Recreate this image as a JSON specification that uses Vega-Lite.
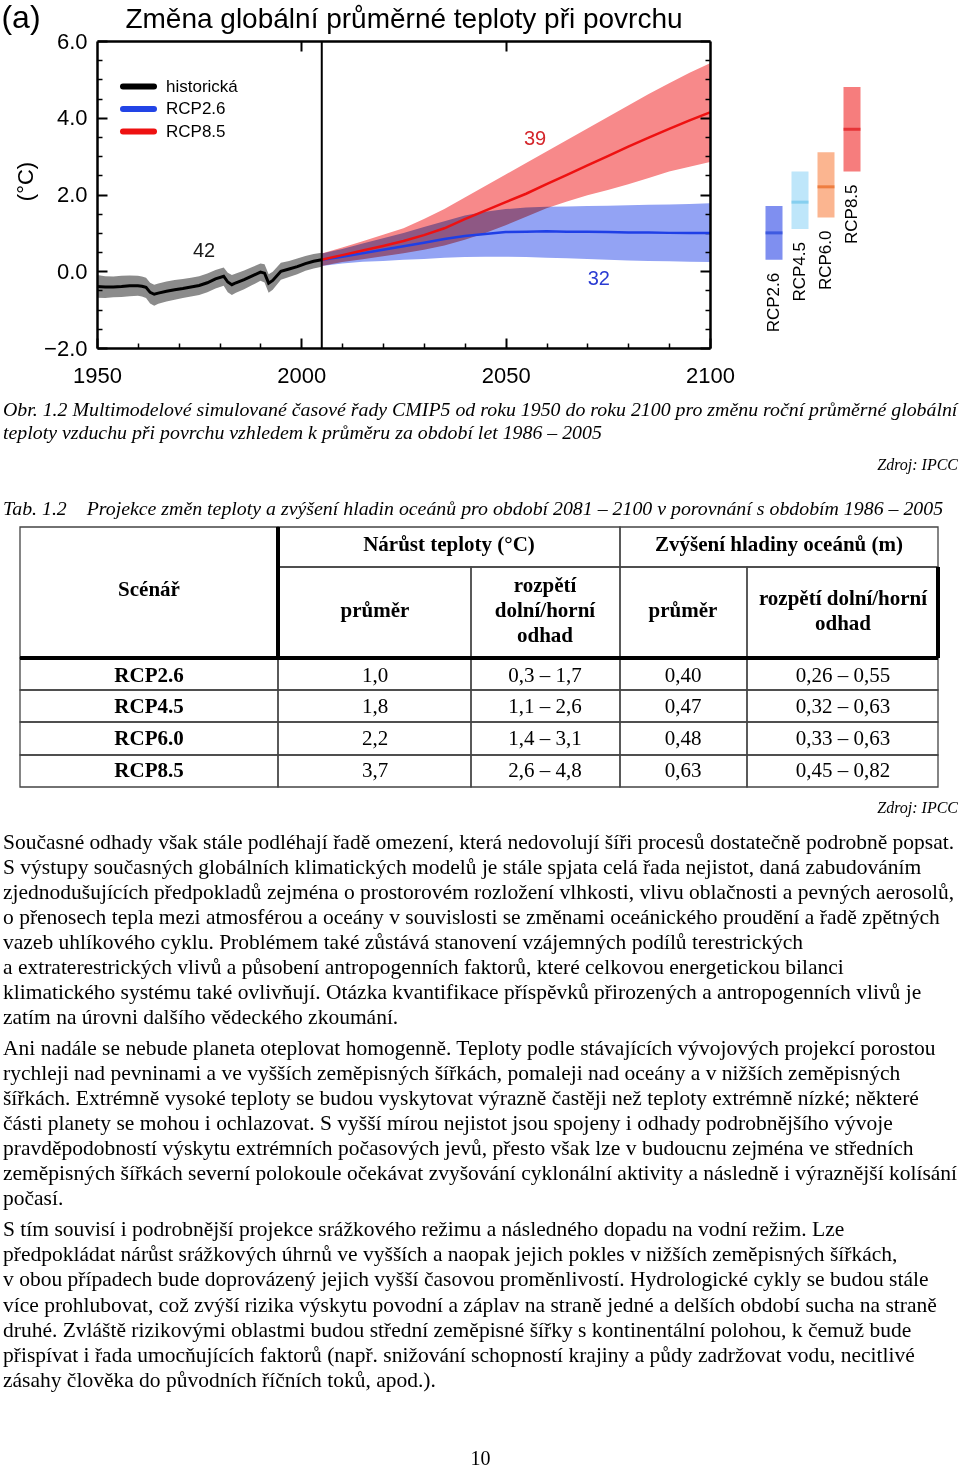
{
  "$schema": "https://vega.github.io/schema/vega-lite/v6.json",
  "width": 960,
  "height": 1470,
  "autosize": "none",
  "padding": 0,
  "background": "white",
  "config": {
    "font": "Liberation Sans",
    "view": {"stroke": null},
    "axis": {"grid": false, "domain": false, "ticks": false, "labels": false, "labelColor": "black", "tickColor": "black", "titleColor": "black", "labelFlush": false, "labelOverlap": false, "labelFont": "Liberation Sans", "titleFont": "Liberation Sans"},
    "text": {"color": "black"}
  },
  "datasets": {
    "ts": [
      {"s": "historická", "year": 1950, "mean": -0.40, "lo": -0.69, "hi": -0.10},
      {"s": "historická", "year": 1952, "mean": -0.41, "lo": -0.70, "hi": -0.13},
      {"s": "historická", "year": 1954, "mean": -0.41, "lo": -0.68, "hi": -0.14},
      {"s": "historická", "year": 1956, "mean": -0.40, "lo": -0.67, "hi": -0.12},
      {"s": "historická", "year": 1958, "mean": -0.38, "lo": -0.65, "hi": -0.11},
      {"s": "historická", "year": 1960, "mean": -0.38, "lo": -0.64, "hi": -0.12},
      {"s": "historická", "year": 1961, "mean": -0.39, "lo": -0.66, "hi": -0.14},
      {"s": "historická", "year": 1962, "mean": -0.42, "lo": -0.70, "hi": -0.17},
      {"s": "historická", "year": 1963, "mean": -0.55, "lo": -0.84, "hi": -0.30},
      {"s": "historická", "year": 1964, "mean": -0.60, "lo": -0.90, "hi": -0.35},
      {"s": "historická", "year": 1965, "mean": -0.57, "lo": -0.85, "hi": -0.32},
      {"s": "historická", "year": 1967, "mean": -0.52, "lo": -0.79, "hi": -0.27},
      {"s": "historická", "year": 1969, "mean": -0.48, "lo": -0.74, "hi": -0.23},
      {"s": "historická", "year": 1971, "mean": -0.45, "lo": -0.70, "hi": -0.20},
      {"s": "historická", "year": 1973, "mean": -0.41, "lo": -0.66, "hi": -0.17},
      {"s": "historická", "year": 1975, "mean": -0.37, "lo": -0.62, "hi": -0.13},
      {"s": "historická", "year": 1977, "mean": -0.30, "lo": -0.55, "hi": -0.06},
      {"s": "historická", "year": 1979, "mean": -0.20, "lo": -0.45, "hi": 0.03},
      {"s": "historická", "year": 1981, "mean": -0.13, "lo": -0.38, "hi": 0.10},
      {"s": "historická", "year": 1982, "mean": -0.28, "lo": -0.55, "hi": -0.04},
      {"s": "historická", "year": 1983, "mean": -0.35, "lo": -0.62, "hi": -0.10},
      {"s": "historická", "year": 1984, "mean": -0.30, "lo": -0.56, "hi": -0.06},
      {"s": "historická", "year": 1986, "mean": -0.22, "lo": -0.47, "hi": 0.02},
      {"s": "historická", "year": 1988, "mean": -0.12, "lo": -0.36, "hi": 0.11},
      {"s": "historická", "year": 1990, "mean": -0.02, "lo": -0.25, "hi": 0.20},
      {"s": "historická", "year": 1991, "mean": -0.05, "lo": -0.29, "hi": 0.18},
      {"s": "historická", "year": 1992, "mean": -0.31, "lo": -0.56, "hi": -0.08},
      {"s": "historická", "year": 1993, "mean": -0.24, "lo": -0.48, "hi": -0.01},
      {"s": "historická", "year": 1995, "mean": 0.00, "lo": -0.22, "hi": 0.22},
      {"s": "historická", "year": 1997, "mean": 0.06, "lo": -0.15, "hi": 0.27},
      {"s": "historická", "year": 1999, "mean": 0.12, "lo": -0.08, "hi": 0.33},
      {"s": "historická", "year": 2001, "mean": 0.20, "lo": 0.01, "hi": 0.40},
      {"s": "historická", "year": 2003, "mean": 0.26, "lo": 0.07, "hi": 0.45},
      {"s": "historická", "year": 2005, "mean": 0.30, "lo": 0.12, "hi": 0.48},
      {"s": "RCP2.6", "year": 2005, "mean": 0.30, "lo": 0.14, "hi": 0.46},
      {"s": "RCP2.6", "year": 2010, "mean": 0.38, "lo": 0.20, "hi": 0.58},
      {"s": "RCP2.6", "year": 2015, "mean": 0.47, "lo": 0.25, "hi": 0.72},
      {"s": "RCP2.6", "year": 2020, "mean": 0.56, "lo": 0.27, "hi": 0.86},
      {"s": "RCP2.6", "year": 2025, "mean": 0.65, "lo": 0.30, "hi": 1.00},
      {"s": "RCP2.6", "year": 2030, "mean": 0.74, "lo": 0.32, "hi": 1.15},
      {"s": "RCP2.6", "year": 2035, "mean": 0.84, "lo": 0.35, "hi": 1.30},
      {"s": "RCP2.6", "year": 2040, "mean": 0.92, "lo": 0.37, "hi": 1.45},
      {"s": "RCP2.6", "year": 2045, "mean": 0.97, "lo": 0.38, "hi": 1.55},
      {"s": "RCP2.6", "year": 2050, "mean": 1.02, "lo": 0.38, "hi": 1.62},
      {"s": "RCP2.6", "year": 2055, "mean": 1.03, "lo": 0.37, "hi": 1.66},
      {"s": "RCP2.6", "year": 2060, "mean": 1.04, "lo": 0.35, "hi": 1.68},
      {"s": "RCP2.6", "year": 2065, "mean": 1.03, "lo": 0.34, "hi": 1.69},
      {"s": "RCP2.6", "year": 2070, "mean": 1.03, "lo": 0.32, "hi": 1.70},
      {"s": "RCP2.6", "year": 2075, "mean": 1.02, "lo": 0.30, "hi": 1.71},
      {"s": "RCP2.6", "year": 2080, "mean": 1.01, "lo": 0.28, "hi": 1.72},
      {"s": "RCP2.6", "year": 2085, "mean": 1.01, "lo": 0.27, "hi": 1.73},
      {"s": "RCP2.6", "year": 2090, "mean": 1.00, "lo": 0.26, "hi": 1.74},
      {"s": "RCP2.6", "year": 2095, "mean": 1.00, "lo": 0.25, "hi": 1.75},
      {"s": "RCP2.6", "year": 2100, "mean": 1.00, "lo": 0.24, "hi": 1.77},
      {"s": "RCP8.5", "year": 2005, "mean": 0.30, "lo": 0.14, "hi": 0.46},
      {"s": "RCP8.5", "year": 2010, "mean": 0.42, "lo": 0.24, "hi": 0.62},
      {"s": "RCP8.5", "year": 2015, "mean": 0.54, "lo": 0.31, "hi": 0.78},
      {"s": "RCP8.5", "year": 2020, "mean": 0.66, "lo": 0.39, "hi": 0.95},
      {"s": "RCP8.5", "year": 2025, "mean": 0.79, "lo": 0.47, "hi": 1.12},
      {"s": "RCP8.5", "year": 2030, "mean": 0.94, "lo": 0.56, "hi": 1.36},
      {"s": "RCP8.5", "year": 2035, "mean": 1.12, "lo": 0.67, "hi": 1.62},
      {"s": "RCP8.5", "year": 2040, "mean": 1.36, "lo": 0.82, "hi": 1.92},
      {"s": "RCP8.5", "year": 2045, "mean": 1.58, "lo": 1.00, "hi": 2.22},
      {"s": "RCP8.5", "year": 2050, "mean": 1.80, "lo": 1.20, "hi": 2.52},
      {"s": "RCP8.5", "year": 2055, "mean": 2.02, "lo": 1.42, "hi": 2.82},
      {"s": "RCP8.5", "year": 2060, "mean": 2.27, "lo": 1.64, "hi": 3.12},
      {"s": "RCP8.5", "year": 2065, "mean": 2.51, "lo": 1.82, "hi": 3.42},
      {"s": "RCP8.5", "year": 2070, "mean": 2.76, "lo": 1.98, "hi": 3.72},
      {"s": "RCP8.5", "year": 2075, "mean": 3.00, "lo": 2.12, "hi": 4.02},
      {"s": "RCP8.5", "year": 2080, "mean": 3.25, "lo": 2.27, "hi": 4.32},
      {"s": "RCP8.5", "year": 2085, "mean": 3.48, "lo": 2.43, "hi": 4.62},
      {"s": "RCP8.5", "year": 2090, "mean": 3.71, "lo": 2.60, "hi": 4.90},
      {"s": "RCP8.5", "year": 2095, "mean": 3.93, "lo": 2.72, "hi": 5.17},
      {"s": "RCP8.5", "year": 2100, "mean": 4.14, "lo": 2.85, "hi": 5.42}
    ],
    "notes": [
      {"t": "42", "s": "historická", "year": 1976.2, "temp": 0.53},
      {"t": "39", "s": "RCP8.5", "year": 2057.2, "temp": 3.45},
      {"t": "32", "s": "RCP2.6", "year": 2072.8, "temp": -0.2}
    ],
    "panel": [{"t": "(a)", "year": 1931.4, "temp": 6.6}],
    "leg": [{"s": "historická"}, {"s": "RCP2.6"}, {"s": "RCP8.5"}],
    "bars": [
      {"s": "RCP2.6", "lo": 0.3, "mean": 1.0, "hi": 1.7},
      {"s": "RCP4.5", "lo": 1.1, "mean": 1.8, "hi": 2.6},
      {"s": "RCP6.0", "lo": 1.4, "mean": 2.2, "hi": 3.1},
      {"s": "RCP8.5", "lo": 2.6, "mean": 3.7, "hi": 4.8}
    ],
    "cells": [
      {"c0": 0, "c1": 1, "r0": 0, "r1": 2},
      {"c0": 1, "c1": 3, "r0": 0, "r1": 1},
      {"c0": 3, "c1": 5, "r0": 0, "r1": 1},
      {"c0": 1, "c1": 2, "r0": 1, "r1": 2},
      {"c0": 2, "c1": 3, "r0": 1, "r1": 2},
      {"c0": 3, "c1": 4, "r0": 1, "r1": 2},
      {"c0": 4, "c1": 5, "r0": 1, "r1": 2},
      {"c0": 0, "c1": 1, "r0": 2, "r1": 3}, {"c0": 1, "c1": 2, "r0": 2, "r1": 3}, {"c0": 2, "c1": 3, "r0": 2, "r1": 3}, {"c0": 3, "c1": 4, "r0": 2, "r1": 3}, {"c0": 4, "c1": 5, "r0": 2, "r1": 3},
      {"c0": 0, "c1": 1, "r0": 3, "r1": 4}, {"c0": 1, "c1": 2, "r0": 3, "r1": 4}, {"c0": 2, "c1": 3, "r0": 3, "r1": 4}, {"c0": 3, "c1": 4, "r0": 3, "r1": 4}, {"c0": 4, "c1": 5, "r0": 3, "r1": 4},
      {"c0": 0, "c1": 1, "r0": 4, "r1": 5}, {"c0": 1, "c1": 2, "r0": 4, "r1": 5}, {"c0": 2, "c1": 3, "r0": 4, "r1": 5}, {"c0": 3, "c1": 4, "r0": 4, "r1": 5}, {"c0": 4, "c1": 5, "r0": 4, "r1": 5},
      {"c0": 0, "c1": 1, "r0": 5, "r1": 6}, {"c0": 1, "c1": 2, "r0": 5, "r1": 6}, {"c0": 2, "c1": 3, "r0": 5, "r1": 6}, {"c0": 3, "c1": 4, "r0": 5, "r1": 6}, {"c0": 4, "c1": 5, "r0": 5, "r1": 6}
    ],
    "thick": [
      {"c0": 0, "c1": 5, "r0": 2, "r1": 2},
      {"c0": 1, "c1": 1, "r0": 0, "r1": 2},
      {"c0": 5, "c1": 5, "r0": 1, "r1": 2}
    ],
    "tabbold": [
      {"t": "Scénář", "c": 0, "r": 1},
      {"t": "Nárůst teploty (°C)", "c": 2, "r": 0},
      {"t": "Zvýšení hladiny oceánů (m)", "c": 5, "r": 0},
      {"t": "průměr", "c": 1, "r": 2},
      {"t": "průměr", "c": 4, "r": 2},
      {"t": "RCP2.6", "c": 0, "r": 3},
      {"t": "RCP4.5", "c": 0, "r": 4},
      {"t": "RCP6.0", "c": 0, "r": 5},
      {"t": "RCP8.5", "c": 0, "r": 6}
    ],
    "tab3": [{"t": "rozpětí\ndolní/horní\nodhad", "c": 3, "r": 2}],
    "tab2": [{"t": "rozpětí dolní/horní\nodhad", "c": 6, "r": 2}],
    "tabreg": [
      {"t": "1,0", "c": 1, "r": 3}, {"t": "0,3 – 1,7", "c": 3, "r": 3}, {"t": "0,40", "c": 4, "r": 3}, {"t": "0,26 – 0,55", "c": 6, "r": 3},
      {"t": "1,8", "c": 1, "r": 4}, {"t": "1,1 – 2,6", "c": 3, "r": 4}, {"t": "0,47", "c": 4, "r": 4}, {"t": "0,32 – 0,63", "c": 6, "r": 4},
      {"t": "2,2", "c": 1, "r": 5}, {"t": "1,4 – 3,1", "c": 3, "r": 5}, {"t": "0,48", "c": 4, "r": 5}, {"t": "0,33 – 0,63", "c": 6, "r": 5},
      {"t": "3,7", "c": 1, "r": 6}, {"t": "2,6 – 4,8", "c": 3, "r": 6}, {"t": "0,63", "c": 4, "r": 6}, {"t": "0,45 – 0,82", "c": 6, "r": 6}
    ],
    "ital": [
      {"t": "Obr. 1.2 Multimodelové simulované časové řady CMIP5 od roku 1950 do roku 2100 pro změnu roční průměrné globální", "ln": 0},
      {"t": "teploty vzduchu při povrchu vzhledem k průměru za období let 1986 – 2005", "ln": 1},
      {"t": "Tab. 1.2\u00a0\u00a0\u00a0 Projekce změn teploty a zvýšení hladin oceánů pro období 2081 – 2100 v porovnání s obdobím 1986 – 2005", "ln": 3}
    ],
    "italr": [
      {"t": "Zdroj: IPCC", "ln": 2},
      {"t": "Zdroj: IPCC", "ln": 4}
    ],
    "para": [
      {"ln": 0, "t": "Současné odhady však stále podléhají řadě omezení, která nedovolují šíři procesů dostatečně podrobně popsat."},
      {"ln": 1, "t": "S výstupy současných globálních klimatických modelů je stále spjata celá řada nejistot, daná zabudováním"},
      {"ln": 2, "t": "zjednodušujících předpokladů zejména o prostorovém rozložení vlhkosti, vlivu oblačnosti a pevných aerosolů,"},
      {"ln": 3, "t": "o přenosech tepla mezi atmosférou a oceány v souvislosti se změnami oceánického proudění a řadě zpětných"},
      {"ln": 4, "t": "vazeb uhlíkového cyklu. Problémem také zůstává stanovení vzájemných podílů terestrických"},
      {"ln": 5, "t": "a extraterestrických vlivů a působení antropogenních faktorů, které celkovou energetickou bilanci"},
      {"ln": 6, "t": "klimatického systému také ovlivňují. Otázka kvantifikace příspěvků přirozených a antropogenních vlivů je"},
      {"ln": 7, "t": "zatím na úrovni dalšího vědeckého zkoumání."},
      {"ln": 8, "t": "Ani nadále se nebude planeta oteplovat homogenně. Teploty podle stávajících vývojových projekcí porostou"},
      {"ln": 9, "t": "rychleji nad pevninami a ve vyšších zeměpisných šířkách, pomaleji nad oceány a v nižších zeměpisných"},
      {"ln": 10, "t": "šířkách. Extrémně vysoké teploty se budou vyskytovat výrazně častěji než teploty extrémně nízké; některé"},
      {"ln": 11, "t": "části planety se mohou i ochlazovat. S vyšší mírou nejistot jsou spojeny i odhady podrobnějšího vývoje"},
      {"ln": 12, "t": "pravděpodobností výskytu extrémních počasových jevů, přesto však lze v budoucnu zejména ve středních"},
      {"ln": 13, "t": "zeměpisných šířkách severní polokoule očekávat zvyšování cyklonální aktivity a následně i výraznější kolísání"},
      {"ln": 14, "t": "počasí."},
      {"ln": 15, "t": "S tím souvisí i podrobnější projekce srážkového režimu a následného dopadu na vodní režim. Lze"},
      {"ln": 16, "t": "předpokládat nárůst srážkových úhrnů ve vyšších a naopak jejich pokles v nižších zeměpisných šířkách,"},
      {"ln": 17, "t": "v obou případech bude doprovázený jejich vyšší časovou proměnlivostí. Hydrologické cykly se budou stále"},
      {"ln": 18, "t": "více prohlubovat, což zvýší rizika výskytu povodní a záplav na straně jedné a delších období sucha na straně"},
      {"ln": 19, "t": "druhé. Zvláště rizikovými oblastmi budou střední zeměpisné šířky s kontinentální polohou, k čemuž bude"},
      {"ln": 20, "t": "přispívat i řada umocňujících faktorů (např. snižování schopností krajiny a půdy zadržovat vodu, necitlivé"},
      {"ln": 21, "t": "zásahy člověka do původních říčních toků, apod.)."}
    ],
    "pg": [{"ln": 22, "t": "10"}]
  },
  "layer": [
    {
      "data": {"name": "ts"},
      "layer": [
        {
          "mark": {"type": "area", "blend": "multiply"},
          "encoding": {
            "x": {"field": "year", "type": "quantitative", "scale": {"domain": [1950, 2100], "range": [97, 710], "nice": false, "zero": false},
                  "axis": {"orient": "bottom", "offset": -1132, "values": [1950, 2000, 2050, 2100], "format": "d", "ticks": true, "tickSize": 10, "tickWidth": 2, "labels": true, "labelPadding": 17, "labelFontSize": 22, "title": null}},
            "y": {"field": "lo", "type": "quantitative", "scale": {"domain": [-2, 6], "range": [348, 41], "nice": false, "zero": false},
                  "axis": {"orient": "left", "offset": -107, "values": [-2, 0, 2, 4, 6], "format": ".1f", "ticks": true, "tickSize": 10, "tickWidth": 2, "labels": true, "labelPadding": 10, "labelFontSize": 22, "title": "(°C)", "titleFontSize": 22, "titleFontWeight": "normal", "titleX": -70, "titleY": 181, "titleBaseline": "bottom", "titleAngle": -90}},
            "y2": {"field": "hi"},
            "fill": {"field": "s", "type": "nominal", "scale": {"domain": ["historická", "RCP2.6", "RCP8.5"], "range": ["#8b8b8b", "#93a3f4", "#f7898a"]}, "legend": null}
          }
        },
        {
          "transform": [{"filter": "datum.s == 'historická'"}],
          "mark": {"type": "line", "strokeWidth": 3},
          "encoding": {
            "x": {"field": "year", "type": "quantitative",
                  "axis": {"orient": "bottom", "offset": -1127, "values": [1960, 1970, 1980, 1990, 2010, 2020, 2030, 2040, 2060, 2070, 2080, 2090], "ticks": true, "tickSize": 5, "tickWidth": 1.5, "title": null}},
            "y": {"field": "mean", "type": "quantitative",
                  "axis": {"orient": "left", "offset": -102, "values": [-1.5, -1, -0.5, 0.5, 1, 1.5, 2.5, 3, 3.5, 4.5, 5, 5.5], "ticks": true, "tickSize": 5, "tickWidth": 1.5, "title": null}},
            "stroke": {"field": "s", "type": "nominal", "scale": {"domain": ["historická", "RCP2.6", "RCP8.5"], "range": ["#000000", "#1f3fe6", "#ee1111"]}, "legend": null}
          }
        },
        {
          "transform": [{"filter": "datum.s != 'historická'"}],
          "mark": {"type": "line", "strokeWidth": 2.5},
          "encoding": {
            "x": {"field": "year", "type": "quantitative", "axis": null},
            "y": {"field": "mean", "type": "quantitative",
                  "axis": {"orient": "right", "offset": -250, "domain": true, "domainWidth": 2.5, "domainColor": "black", "title": null, "zindex": 1}},
            "stroke": {"field": "s", "type": "nominal", "legend": null}
          }
        },
        {
          "data": {"name": "panel"},
          "mark": {"type": "rule", "strokeWidth": 2, "color": "black"},
          "encoding": {
            "x": {"datum": 2005, "type": "quantitative",
                  "axis": {"orient": "top", "offset": -51, "values": [2000, 2050], "ticks": true, "tickSize": 10, "tickWidth": 2, "title": null}},
            "y": {"datum": -2, "type": "quantitative",
                  "axis": {"orient": "right", "offset": -260, "values": [-2, 0, 2, 4, 6], "ticks": true, "tickSize": 10, "tickWidth": 2, "title": null}},
            "y2": {"datum": 6}
          }
        },
        {
          "data": {"name": "notes"},
          "mark": {"type": "text", "fontSize": 20},
          "encoding": {
            "x": {"field": "year", "type": "quantitative",
                  "axis": {"orient": "top", "offset": -41, "domain": true, "domainWidth": 2.5, "domainColor": "black", "title": "Změna globální průměrné teploty při povrchu", "titleFontSize": 28, "titleFontWeight": "normal", "titlePadding": 8, "zindex": 1}},
            "y": {"field": "temp", "type": "quantitative",
                  "axis": {"orient": "right", "offset": -255, "values": [-1.5, -1, -0.5, 0.5, 1, 1.5, 2.5, 3, 3.5, 4.5, 5, 5.5], "ticks": true, "tickSize": 5, "tickWidth": 1.5, "title": null}},
            "text": {"field": "t"},
            "color": {"field": "s", "type": "nominal", "scale": {"domain": ["historická", "RCP2.6", "RCP8.5"], "range": ["#1a1a1a", "#2a3bd2", "#d4262b"]}, "legend": null}
          }
        },
        {
          "data": {"name": "panel"},
          "mark": {"type": "text", "fontSize": 32},
          "encoding": {
            "x": {"field": "year", "type": "quantitative",
                  "axis": {"orient": "bottom", "offset": -1122, "domain": true, "domainWidth": 2.5, "domainColor": "black", "title": null, "zindex": 1}},
            "y": {"field": "temp", "type": "quantitative",
                  "axis": {"orient": "left", "offset": -97, "domain": true, "domainWidth": 2.5, "domainColor": "black", "title": null, "zindex": 1}},
            "text": {"field": "t"}
          }
        }
      ],
      "resolve": {"axis": {"x": "independent", "y": "independent"}}
    },
    {
      "data": {"name": "leg"},
      "layer": [
        {
          "mark": {"type": "rule", "strokeWidth": 6, "strokeCap": "round"},
          "encoding": {
            "x": {"datum": 0, "type": "quantitative", "scale": {"domain": [0, 1], "range": [123, 154], "nice": false, "zero": false}, "axis": null},
            "x2": {"datum": 1},
            "y": {"field": "s", "type": "nominal", "sort": null, "scale": {"type": "point", "domain": ["historická", "RCP2.6", "RCP8.5"], "range": [86.5, 131.5], "padding": 0}, "axis": null},
            "color": {"field": "s", "type": "nominal", "scale": {"domain": ["historická", "RCP2.6", "RCP8.5"], "range": ["#000000", "#2244e6", "#ee1111"]}, "legend": null}
          }
        },
        {
          "mark": {"type": "text", "align": "left", "baseline": "middle", "fontSize": 17, "dx": 12},
          "encoding": {
            "x": {"datum": 1, "type": "quantitative", "axis": null},
            "y": {"field": "s", "type": "nominal", "axis": null},
            "text": {"field": "s"}
          }
        }
      ]
    },
    {
      "data": {"name": "bars"},
      "layer": [
        {
          "mark": {"type": "bar"},
          "encoding": {
            "x": {"field": "s", "type": "nominal", "sort": null, "scale": {"domain": ["RCP2.6", "RCP4.5", "RCP6.0", "RCP8.5"], "range": [761, 865], "paddingInner": 0.346, "paddingOuter": 0.173},
                  "axis": {"orient": "top", "offset": 0, "title": ["Průměr za období", "2081–2100"], "titleFontSize": 21, "titleFontWeight": "normal", "titleAlign": "left", "titleAnchor": "start", "titleX": 724, "titleY": 45, "titleBaseline": "alphabetic", "titleLineHeight": 26.7, "titleAngle": 0}},
            "y": {"field": "lo", "type": "quantitative", "scale": {"domain": [-2, 6], "range": [348, 41], "nice": false, "zero": false}, "axis": null},
            "y2": {"field": "hi"},
            "fill": {"field": "s", "type": "nominal", "scale": {"domain": ["RCP2.6", "RCP4.5", "RCP6.0", "RCP8.5"], "range": ["#7f8ff0", "#bee6fa", "#fbb590", "#f67d7d"]}, "legend": null}
          }
        },
        {
          "mark": {"type": "tick", "thickness": 3, "size": 17},
          "encoding": {
            "x": {"field": "s", "type": "nominal", "axis": null},
            "y": {"field": "mean", "type": "quantitative", "axis": null},
            "color": {"field": "s", "type": "nominal", "scale": {"domain": ["RCP2.6", "RCP4.5", "RCP6.0", "RCP8.5"], "range": ["#2243d8", "#6ec5ea", "#e8661f", "#e0161a"]}, "legend": null}
          }
        },
        {
          "mark": {"type": "text", "angle": 270, "align": "right", "baseline": "middle", "dx": -13, "fontSize": 17},
          "encoding": {
            "x": {"field": "s", "type": "nominal", "axis": null},
            "y": {"field": "lo", "type": "quantitative", "axis": null},
            "text": {"field": "s"}
          }
        }
      ]
    },
    {
      "layer": [
        {
          "data": {"name": "cells"},
          "mark": {"type": "rect", "filled": false, "color": "#444444", "strokeWidth": 1.3},
          "encoding": {
            "x": {"field": "c0", "type": "quantitative", "scale": {"domain": [0, 1, 2, 3, 4, 5], "range": [20, 278, 471, 620, 747, 938], "nice": false, "zero": false}, "axis": null},
            "x2": {"field": "c1"},
            "y": {"field": "r0", "type": "quantitative", "scale": {"domain": [0, 1, 2, 3, 4, 5, 6], "range": [527, 567, 658, 690, 722, 755, 787], "nice": false, "zero": false}, "axis": null},
            "y2": {"field": "r1"}
          }
        },
        {
          "data": {"name": "thick"},
          "mark": {"type": "rule", "strokeWidth": 4, "color": "black"},
          "encoding": {
            "x": {"field": "c0", "type": "quantitative", "axis": null},
            "x2": {"field": "c1"},
            "y": {"field": "r0", "type": "quantitative", "axis": null},
            "y2": {"field": "r1"}
          }
        }
      ]
    },
    {
      "layer": [
        {
          "data": {"name": "tabbold"},
          "mark": {"type": "text", "font": "Liberation Serif", "fontWeight": "bold", "fontSize": 21, "baseline": "middle", "align": "center"},
          "encoding": {
            "x": {"field": "c", "type": "quantitative", "scale": {"domain": [0, 1, 2, 3, 4, 5, 6], "range": [149, 375, 449, 545, 683, 779, 843], "nice": false, "zero": false}, "axis": null},
            "y": {"field": "r", "type": "quantitative", "scale": {"domain": [0, 1, 2, 3, 4, 5, 6], "range": [545, 590, 611, 676, 707, 739, 771], "nice": false, "zero": false}, "axis": null},
            "text": {"field": "t"}
          }
        },
        {
          "data": {"name": "tab3"},
          "mark": {"type": "text", "font": "Liberation Serif", "fontWeight": "bold", "fontSize": 21, "lineBreak": "\n", "lineHeight": 25, "baseline": "middle", "align": "center", "dy": -25},
          "encoding": {
            "x": {"field": "c", "type": "quantitative", "axis": null},
            "y": {"field": "r", "type": "quantitative", "axis": null},
            "text": {"field": "t"}
          }
        },
        {
          "data": {"name": "tab2"},
          "mark": {"type": "text", "font": "Liberation Serif", "fontWeight": "bold", "fontSize": 21, "lineBreak": "\n", "lineHeight": 25, "baseline": "middle", "align": "center", "dy": -12.5},
          "encoding": {
            "x": {"field": "c", "type": "quantitative", "axis": null},
            "y": {"field": "r", "type": "quantitative", "axis": null},
            "text": {"field": "t"}
          }
        },
        {
          "data": {"name": "tabreg"},
          "mark": {"type": "text", "font": "Liberation Serif", "fontSize": 21, "baseline": "middle", "align": "center"},
          "encoding": {
            "x": {"field": "c", "type": "quantitative", "axis": null},
            "y": {"field": "r", "type": "quantitative", "axis": null},
            "text": {"field": "t"}
          }
        }
      ]
    },
    {
      "layer": [
        {
          "data": {"name": "ital"},
          "mark": {"type": "text", "font": "Liberation Serif", "fontStyle": "italic", "fontSize": 19.85, "baseline": "middle", "align": "left"},
          "encoding": {
            "x": {"datum": 0, "type": "quantitative", "scale": {"domain": [0, 1], "range": [3, 958], "nice": false, "zero": false}, "axis": null},
            "y": {"field": "ln", "type": "quantitative", "scale": {"domain": [0, 1, 2, 3, 4], "range": [410, 433, 465, 509, 808], "nice": false, "zero": false}, "axis": null},
            "text": {"field": "t"}
          }
        },
        {
          "data": {"name": "italr"},
          "mark": {"type": "text", "font": "Liberation Serif", "fontStyle": "italic", "fontSize": 16, "baseline": "middle", "align": "right"},
          "encoding": {
            "x": {"datum": 1, "type": "quantitative", "axis": null},
            "y": {"field": "ln", "type": "quantitative", "axis": null},
            "text": {"field": "t"}
          }
        }
      ]
    },
    {
      "layer": [
        {
          "data": {"name": "para"},
          "mark": {"type": "text", "font": "Liberation Serif", "fontSize": 21.5, "baseline": "middle", "align": "left"},
          "encoding": {
            "x": {"datum": 0, "type": "quantitative", "scale": {"domain": [0, 1], "range": [3, 958], "nice": false, "zero": false}, "axis": null},
            "y": {"field": "ln", "type": "quantitative", "scale": {"domain": [0, 7, 8, 14, 15, 21, 22], "range": [843, 1018, 1049, 1199, 1230, 1381, 1459], "nice": false, "zero": false}, "axis": null},
            "text": {"field": "t"}
          }
        },
        {
          "data": {"name": "pg"},
          "mark": {"type": "text", "font": "Liberation Serif", "fontSize": 20, "baseline": "middle", "align": "center"},
          "encoding": {
            "x": {"datum": 0.5, "type": "quantitative", "axis": null},
            "y": {"field": "ln", "type": "quantitative", "axis": null},
            "text": {"field": "t"}
          }
        }
      ]
    }
  ],
  "resolve": {
    "scale": {"x": "independent", "y": "independent", "fill": "independent", "color": "independent", "stroke": "independent"},
    "axis": {"x": "independent", "y": "independent"}
  }
}
